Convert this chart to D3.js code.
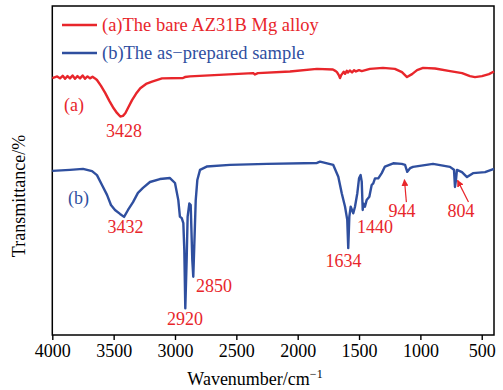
<!DOCTYPE html>
<html>
<head>
<meta charset="utf-8">
<script src="https://cdn.jsdelivr.net/npm/d3@7/dist/d3.min.js"></script>
<style>
  body { margin: 0; background: #fff; }
  svg text { font-family: "Liberation Serif", "Times New Roman", serif; }
</style>
</head>
<body>
<div id="chart"></div>
<script>

// spectrum (a): bare AZ31B alloy, [wavenumber, transmittance]
var spectrum_a = [
  [4000, 78.1], [3960, 78.6], [3937, 78.0], [3915, 78.8], [3896, 77.9], [3876, 78.7],
  [3856, 78.0], [3835, 78.9], [3815, 77.9], [3795, 78.7], [3774, 78.0], [3753, 78.9],
  [3733, 77.9], [3713, 78.6], [3693, 78.0], [3672, 78.5], [3652, 78.0], [3636, 77.5],
  [3603, 75.7], [3568, 73.5], [3534, 71.1], [3500, 68.9], [3473, 67.5], [3446, 66.4],
  [3424, 66.6], [3405, 67.4], [3379, 69.3], [3350, 71.4], [3318, 73.3], [3283, 75.0],
  [3236, 76.3], [3187, 77.0], [3106, 78.0], [2935, 78.1], [2919, 78.4], [2878, 78.6],
  [2364, 79.6], [2348, 79.2], [2324, 79.6], [2063, 80.1], [1843, 80.9], [1713, 80.7],
  [1690, 80.2], [1680, 79.9], [1665, 79.0], [1655, 78.1], [1645, 79.0], [1639, 79.3],
  [1625, 80.0], [1614, 79.4], [1600, 80.3], [1590, 79.8], [1575, 80.4], [1557, 79.8],
  [1540, 80.5], [1525, 80.1], [1500, 80.5], [1478, 80.2], [1411, 80.9], [1305, 81.2],
  [1208, 80.9], [1150, 79.9], [1109, 78.4], [1068, 79.3], [1027, 80.5], [978, 81.2],
  [880, 81.0], [758, 80.2], [660, 79.6], [596, 78.7], [555, 78.4], [498, 78.7],
  [441, 79.3], [400, 80.1]
]

// spectrum (b): as-prepared sample
var spectrum_b = [
  [4000, 49.9], [3856, 50.2], [3750, 50.5], [3676, 49.8], [3636, 48.6], [3595, 45.6],
  [3554, 42.6], [3522, 39.5], [3489, 38.0], [3448, 36.8], [3415, 35.9], [3383, 38.0],
  [3342, 40.4], [3302, 43.2], [3261, 44.7], [3204, 46.5], [3123, 47.4], [3041, 47.7],
  [3000, 46.2], [2973, 41.0], [2960, 36.0], [2945, 35.5], [2932, 34.0], [2924, 25.8],
  [2916, 8.1], [2905, 22.8], [2897, 36.0], [2883, 40.0], [2872, 39.5], [2859, 22.8],
  [2851, 17.7], [2843, 26.8], [2831, 41.0], [2818, 47.1], [2796, 50.2], [2742, 51.2],
  [2552, 51.7], [2250, 52.0], [1843, 52.3], [1818, 52.7], [1710, 51.7], [1669, 48.1],
  [1641, 43.1], [1614, 39.0], [1596, 35.0], [1588, 26.4], [1579, 36.0], [1568, 39.0],
  [1547, 37.0], [1533, 39.0], [1514, 43.1], [1500, 47.6], [1487, 48.6], [1478, 46.6],
  [1470, 38.0], [1465, 40.0], [1452, 39.0], [1438, 41.0], [1416, 42.0], [1397, 45.6],
  [1384, 46.1], [1370, 47.6], [1343, 47.6], [1315, 49.2], [1289, 51.2], [1221, 52.2],
  [1152, 52.0], [1125, 51.7], [1107, 49.6], [1084, 50.7], [1060, 51.1], [897, 52.0],
  [759, 51.1], [726, 50.2], [718, 45.0], [710, 47.1], [702, 50.2], [661, 49.5],
  [620, 48.0], [571, 49.2], [473, 49.5], [400, 50.5]
]

// peak labels: text, wavenumber, transmittance, anchor
var peak_labels = [
  ["3428", 3415, 60.2, "middle"], ["3432", 3403, 31.0, "middle"],
  ["2920", 2918, 3.0, "middle"], ["2850", 2829, 13.1, "start"],
  ["1634", 1627, 20.7, "middle"], ["1440", 1370, 31.0, "middle"],
  ["944", 1150, 35.9, "middle"], ["804", 669, 35.9, "middle"]
]

// arrows pointing at small peaks: from [w, T] to [w, T]
var peak_arrows = [
  [[1114, 40.4], [1130, 47.2]],
  [[608, 40.4], [697, 47.0]]
]

var series_names = ["(a)The bare AZ31B Mg alloy", "(b)The as\u2212prepared sample"]
var curve_tags = [["(a)", 3905, 68.1], ["(b)", 3872, 39.8]]
var x_ticks = [4000, 3500, 3000, 2500, 2000, 1500, 1000, 500]

var red = "#e8262b"
var blue = "#2f4f9f"
var serif = "Liberation Serif, Times New Roman, serif"

var margin = {top: 6, right: 9, bottom: 55, left: 52.3}
var width = 503 - margin.left - margin.right
var height = 390 - margin.top - margin.bottom

var svg = d3.select("#chart").append("svg")
  .attr("width", 503)
  .attr("height", 390)

var g = svg.append("g")
  .attr("transform", "translate(" + margin.left + "," + margin.top + ")")

var x = d3.scaleLinear().domain([4000, 400]).range([0, width])
var y = d3.scaleLinear().domain([0, 100]).range([height, 0])


// draw the axis and frame
function draw_axes(){

  var axis = g.append("g")
    .attr("transform", "translate(0," + height + ")")
    .call(d3.axisBottom(x)
      .tickValues(x_ticks)
      .tickFormat(d3.format("d"))
      .tickSize(5)
      .tickSizeOuter(0)
      .tickPadding(4))
    .attr("font-family", serif)
    .attr("font-size", 18)

  axis.select(".domain").remove()
  axis.selectAll("line").attr("stroke", "#000").attr("stroke-width", 1.4)
  axis.selectAll("text").attr("fill", "#000")

  g.append("rect")
    .attr("width", width)
    .attr("height", height)
    .attr("fill", "none")
    .attr("stroke", "#000")
    .attr("stroke-width", 1.5)

  // x label with superscript
  var xl = svg.append("text")
    .attr("x", 255)
    .attr("y", 385)
    .attr("text-anchor", "middle")
    .style("font-size", "18px")
    .text("Wavenumber/cm")
  xl.append("tspan")
    .attr("dy", -7)
    .style("font-size", "12px")
    .text("\u22121")

  svg.append("text")
    .attr("transform", "translate(25,196) rotate(-90)")
    .attr("text-anchor", "middle")
    .style("font-size", "18px")
    .text("Transmittance/%")
}


// draw both spectra
function draw_lines(){

  var line = d3.line()
    .x(function(d){ return x(d[0]) })
    .y(function(d){ return y(d[1]) })

  g.append("path")
    .datum(spectrum_a)
    .attr("fill", "none")
    .attr("stroke", red)
    .attr("stroke-width", 2.4)
    .attr("stroke-linejoin", "round")
    .attr("d", line)

  g.append("path")
    .datum(spectrum_b)
    .attr("fill", "none")
    .attr("stroke", blue)
    .attr("stroke-width", 2.4)
    .attr("stroke-linejoin", "round")
    .attr("d", line)
}


// peak labels, curve tags and arrows
function draw_labels(){

  g.selectAll(".peak")
    .data(peak_labels)
    .enter().append("text")
      .attr("class", "peak")
      .attr("x", function(d){ return x(d[1]) })
      .attr("y", function(d){ return y(d[2]) })
      .attr("text-anchor", function(d){ return d[3] })
      .attr("fill", red)
      .style("font-size", "18px")
      .text(function(d){ return d[0] })

  g.selectAll(".tag")
    .data(curve_tags)
    .enter().append("text")
      .attr("class", "tag")
      .attr("x", function(d){ return x(d[1]) })
      .attr("y", function(d){ return y(d[2]) })
      .attr("fill", function(d, i){ return i == 0 ? red : blue })
      .style("font-size", "18px")
      .text(function(d){ return d[0] })

  svg.append("defs").append("marker")
    .attr("id", "head")
    .attr("viewBox", "0 0 10 10")
    .attr("refX", 9)
    .attr("refY", 5)
    .attr("markerWidth", 7)
    .attr("markerHeight", 7)
    .attr("markerUnits", "userSpaceOnUse")
    .attr("orient", "auto")
    .append("path")
    .attr("d", "M0,0 L10,5 L0,10 z")
    .attr("fill", red)

  g.selectAll(".arrow")
    .data(peak_arrows)
    .enter().append("line")
      .attr("class", "arrow")
      .attr("x1", function(d){ return x(d[0][0]) })
      .attr("y1", function(d){ return y(d[0][1]) })
      .attr("x2", function(d){ return x(d[1][0]) })
      .attr("y2", function(d){ return y(d[1][1]) })
      .attr("stroke", red)
      .attr("stroke-width", 1.2)
      .attr("marker-end", "url(#head)")
}


// legend in the top left corner
function draw_legend(){

  var legend = svg.append("g")
    .attr("class", "legend")

  legend.selectAll("line")
    .data(series_names)
    .enter().append("line")
      .attr("x1", 62)
      .attr("x2", 97)
      .attr("y1", function(d, i){ return 25 + i * 28 })
      .attr("y2", function(d, i){ return 25 + i * 28 })
      .attr("stroke", function(d, i){ return i == 0 ? red : blue })
      .attr("stroke-width", 2.4)

  legend.selectAll("text")
    .data(series_names)
    .enter().append("text")
      .attr("x", 102)
      .attr("y", function(d, i){ return 31 + i * 28 })
      .attr("fill", function(d, i){ return i == 0 ? red : blue })
      .style("font-size", "18.5px")
      .text(function(d){ return d })
}

draw_axes()
draw_lines()
draw_labels()
draw_legend()

</script>
</body>
</html>
